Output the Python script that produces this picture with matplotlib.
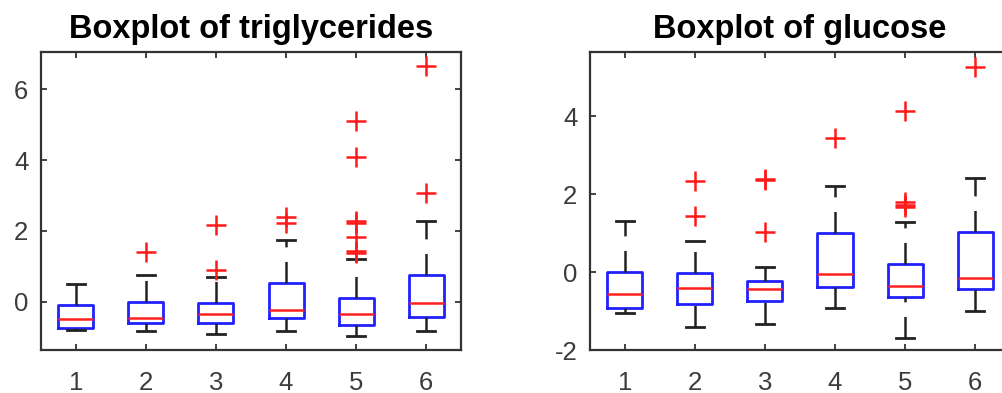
import matplotlib.pyplot as plt

plt.rcParams['font.family'] = ['Liberation Sans', 'DejaVu Sans']
plt.rcParams['axes.unicode_minus'] = False
plt.rcParams['lines.scale_dashes'] = False

groups = [1, 2, 3, 4, 5, 6]

# triglycerides, per group: median, quartiles, whisker ends, outliers
tri_med = [-0.49, -0.45, -0.35, -0.22, -0.33, -0.03]
tri_q1 = [-0.74, -0.61, -0.61, -0.47, -0.66, -0.42]
tri_q3 = [-0.09, 0.00, -0.03, 0.54, 0.11, 0.75]
tri_lo = [-0.80, -0.82, -0.92, -0.82, -0.97, -0.82]
tri_hi = [0.50, 0.77, 0.71, 1.75, 1.21, 2.28]
tri_out = [[], [1.40], [2.17, 0.90], [2.40, 2.23],
           [5.09, 4.08, 2.28, 2.23, 1.84, 1.42, 1.38], [6.65, 3.08]]

# glucose
glu_med = [-0.56, -0.41, -0.43, -0.06, -0.35, -0.16]
glu_q1 = [-0.91, -0.82, -0.75, -0.39, -0.65, -0.43]
glu_q3 = [0.00, -0.02, -0.22, 1.01, 0.22, 1.04]
glu_lo = [-1.06, -1.40, -1.34, -0.92, -1.70, -1.01]
glu_hi = [1.30, 0.79, 0.13, 2.22, 1.28, 2.42]
glu_out = [[], [2.35, 1.45], [2.37, 2.40, 1.04], [3.45],
           [4.13, 1.81, 1.73, 1.68], [5.27]]

fig = plt.figure(figsize=(10.02, 3.93), dpi=100)
ax1 = fig.add_axes([0.0409, 0.1094, 0.4192, 0.7583])
ax2 = fig.add_axes([0.5888, 0.1094, 0.4192, 0.7583])


def draw(ax, med, q1, q3, lo, hi, out, title, ylim, yticks):
    stats = []
    for i in range(len(groups)):
        stats.append(dict(med=med[i], q1=q1[i], q3=q3[i],
                          whislo=lo[i], whishi=hi[i], fliers=out[i]))
    bp = ax.bxp(stats, positions=groups, widths=0.5, capwidths=0.25,
                boxprops=dict(color='#2020ff', lw=2.0),
                medianprops=dict(color='#ff2020', lw=1.8),
                whiskerprops=dict(color='#222222', lw=1.8,
                                  linestyle=(0, (15.5, 10.5))),
                capprops=dict(color='#222222', lw=2.0),
                flierprops=dict(marker='+', markersize=14,
                                markeredgecolor='#ff1a1a',
                                markeredgewidth=1.8, linestyle='none'))
    # lower whiskers run from the adjacent value up to the box
    for w in bp['whiskers'][0::2]:
        w.set_ydata(w.get_ydata()[::-1])
    ax.set_xlim(0.5, 6.5)
    ax.set_ylim(*ylim)
    ax.set_xticks(groups)
    ax.set_xticklabels([str(g) for g in groups])
    ax.set_yticks(yticks)
    ax.tick_params(direction='in', length=4, width=1.3, top=True,
                   right=True, labelsize=18.5, colors='#333333',
                   labelcolor='#3c3c3c', pad=9)
    ax.tick_params(axis='x', pad=15)
    for s in ax.spines.values():
        s.set_color('#333333')
        s.set_linewidth(1.6)
    ax.set_title(title, fontsize=23.5, fontweight='bold', pad=10)


draw(ax1, tri_med, tri_q1, tri_q3, tri_lo, tri_hi, tri_out,
     'Boxplot of triglycerides', (-1.36, 7.05), [0, 2, 4, 6])
draw(ax2, glu_med, glu_q1, glu_q3, glu_lo, glu_hi, glu_out,
     'Boxplot of glucose', (-2, 5.65), [-2, 0, 2, 4])

fig.savefig('out.png', dpi=100)
